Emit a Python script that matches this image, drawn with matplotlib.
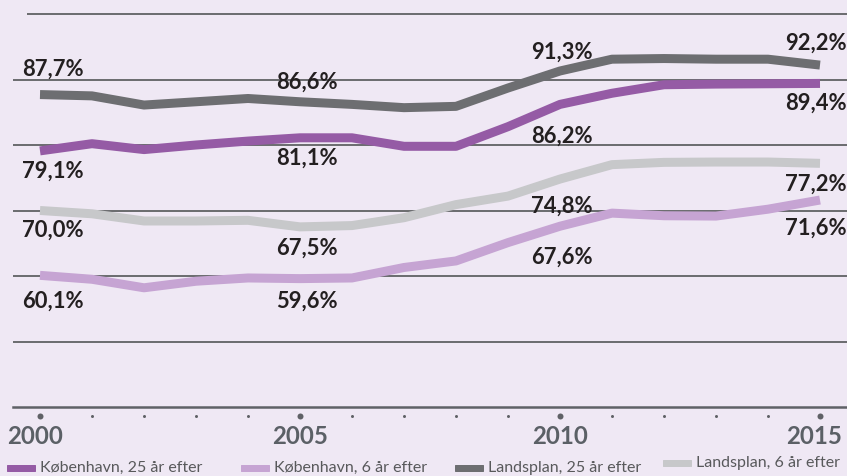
import matplotlib
matplotlib.use("Agg")
import matplotlib.pyplot as plt
from matplotlib.transforms import ScaledTranslation

# data
years = list(range(2000, 2016))
kbh_25 = [79.1, 80.2, 79.3, 80.0, 80.6, 81.1, 81.1, 79.8, 79.8, 82.8, 86.2, 87.9, 89.2, 89.3, 89.35, 89.4]
kbh_6 = [60.1, 59.5, 58.2, 59.2, 59.7, 59.6, 59.7, 61.3, 62.3, 65.1, 67.6, 69.6, 69.2, 69.15, 70.2, 71.6]
land_25 = [87.7, 87.5, 86.1, 86.6, 87.1, 86.6, 86.2, 85.7, 85.9, 88.7, 91.3, 93.1, 93.2, 93.1, 93.1, 92.2]
land_6 = [70.0, 69.5, 68.4, 68.4, 68.5, 67.5, 67.7, 68.9, 70.9, 72.2, 74.8, 77.0, 77.35, 77.4, 77.4, 77.2]

series_names = ["København, 25 år efter", "København, 6 år efter",
                "Landsplan, 25 år efter", "Landsplan, 6 år efter"]
label_years = [2000, 2005, 2010, 2015]

bg = "#efe8f4"
colors = ["#955ba5", "#c6a4d3", "#6d6e71", "#c7c8ca"]
text_col = "#231f20"
tick_col = "#5b6066"

plt.rcParams['font.family'] = ['Lato', 'DejaVu Sans']

# dpi 72 so 1 point == 1 pixel
fig = plt.figure(figsize=(847 / 72, 476 / 72), dpi=72, facecolor=bg)
ax = fig.add_axes([13 / 847, 69 / 476, 834 / 847, 393 / 476])
ax.set_facecolor(bg)
ax.set_xlim(2000 - 27 / 52, 2015 + 27 / 52)
ax.set_ylim(40, 100)
for s in ax.spines.values():
    s.set_visible(False)
ax.set_xticks([])
ax.set_yticks([])

# horizontal rules
for g in [50, 60, 70, 80, 90]:
    ax.axhline(g, color="#6d6e71", lw=2, zorder=1)
ax.axhline(100, xmin=15 / 834, color="#6d6e71", lw=2, zorder=1, clip_on=False)
ax.axhline(40, color="#5f6166", lw=2.5, zorder=1, clip_on=False)

# lines (light ones under dark ones)
data = [kbh_25, kbh_6, land_25, land_6]
for idx in [3, 1, 2, 0]:
    ax.plot(years, data[idx], color=colors[idx], lw=9, solid_capstyle="butt",
            solid_joinstyle="round", zorder=3)

# tick dots below the axis line, big ones at labelled years
below = ax.transData + ScaledTranslation(0, -9 / 72, fig.dpi_scale_trans)
for yr in years:
    big = yr in label_years
    ax.plot([yr], [40], marker="o", ms=6 if big else 3, color="#5f6166", mec="none",
            transform=below, clip_on=False, zorder=4)
for yr, ha, dx in zip(label_years, ["left", "center", "center", "right"], [-33, 0, 0, 22]):
    ax.annotate(str(yr), xy=(yr, 40), xytext=(dx, -29), textcoords="offset points",
                ha=ha, va="center", fontsize=24, fontweight="bold", color=tick_col, annotation_clip=False)

# value labels, offsets in pixels from the point
label_x = {2000: 13, 2005: 7, 2010: 2, 2015: -4}
label_dy = {
    0: {2000: -20, 2005: -20, 2010: -32, 2015: -19.5},
    1: {2000: -26, 2005: -23, 2010: -31, 2015: -28.5},
    2: {2000: 25.5, 2005: 20, 2010: 19, 2015: 22},
    3: {2000: -20, 2005: -21, 2010: -27, 2015: -21},
}
for si, vals in enumerate(data):
    for yr in label_years:
        v = vals[years.index(yr)]
        txt = f"{v:.1f}%".replace(".", ",")
        ax.annotate(txt, xy=(yr, v), xytext=(label_x[yr], label_dy[si][yr]), textcoords="offset points",
                    ha="center", va="center", fontsize=22, fontweight="bold", color=text_col,
                    annotation_clip=False, zorder=5)

# legend along the bottom
leg_x = [7, 241, 455, 663]
leg_y = [468, 468, 468, 463]
for name, c, lx, ly in zip(series_names, colors, leg_x, leg_y):
    fig.patches.append(plt.Rectangle((lx / 847, 1 - (ly + 3) / 476), 28 / 847, 6 / 476,
                                     transform=fig.transFigure, color=c, figure=fig))
    fig.text((lx + 33) / 847, 1 - ly / 476, name, fontsize=16,
             color="#58595b", ha="left", va="center")

fig.savefig("out.png", dpi=72, facecolor=bg)
